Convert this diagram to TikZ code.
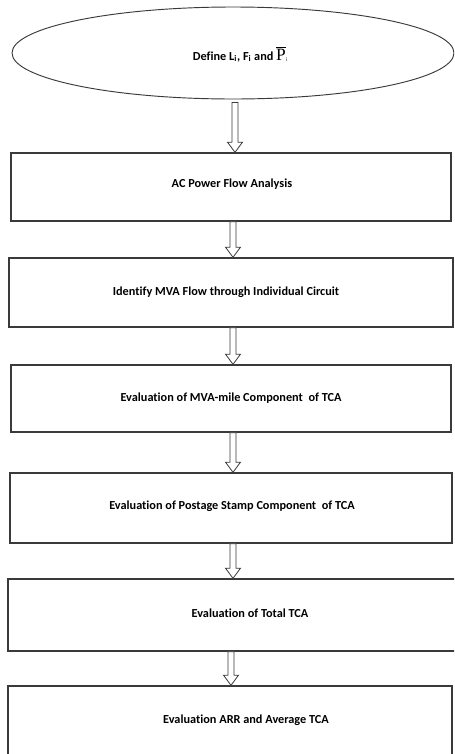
\documentclass[tikz,border=0pt]{standalone}
\usepackage{fontspec}
\setmainfont{Carlito}[Ligatures=NoCommon]
\newfontfamily\serifP{Liberation Serif}
\usetikzlibrary{shapes.geometric,calc}
\definecolor{edge}{HTML}{3A3A3A}
\tikzset{
  px/.style={x=0.75pt,y=-0.75pt},
  stepbox/.style={draw=edge,line width=1.1pt,rectangle,inner sep=0pt},
  lbl/.style={font=\bfseries\fontsize{9.2}{11}\selectfont,inner sep=0pt,text=black},
  blockarrow/.style={draw=edge,line width=0.6pt,fill=white,
    to path={let \p1=(\tikztostart), \p2=(\tikztotarget) in
      (\x1-2.3pt,\y1) -- (\x1-2.3pt,\y2+7.5pt) -- (\x1-5.6pt,\y2+7.5pt) -- (\x1,\y2)
      -- (\x1+5.6pt,\y2+7.5pt) -- (\x1+2.3pt,\y2+7.5pt) -- (\x1+2.3pt,\y1) -- cycle}}
}
\begin{document}
\begin{tikzpicture}[px]
\useasboundingbox (0,0) rectangle (454,754);
\clip (0,0) rectangle (454,754);
\fill[white] (0,0) rectangle (454,754);
% start ellipse
\node[ellipse,draw=edge,line width=0.7pt,minimum width=442*0.75pt,minimum height=92*0.75pt,inner sep=0pt] (e) at (233,53) {};
\node[lbl] (te) at (240,54) {Define L\textsubscript{i}, F\textsubscript{i} and {\fontsize{13}{13}\selectfont$\overline{\mbox{\serifP\mdseries P}}$}\raisebox{-0.3ex}{\fontsize{4}{4}\selectfont\mdseries i}};
% boxes
\node[stepbox,minimum width=440*0.75pt,minimum height=68*0.75pt] (b1) at (231,187) {};
\node[stepbox,minimum width=444*0.75pt,minimum height=69*0.75pt] (b2) at (231,292.5) {};
\node[stepbox,minimum width=440*0.75pt,minimum height=67*0.75pt] (b3) at (231,398.5) {};
\node[stepbox,minimum width=442*0.75pt,minimum height=70*0.75pt] (b4) at (231,508) {};
\node[stepbox,minimum width=456*0.75pt,minimum height=72*0.75pt] (b5) at (236,615) {};
\node[stepbox,minimum width=444*0.75pt,minimum height=100*0.75pt] (b6) at (230,736) {};
% texts
\node[lbl] (t1) at (232,184) {AC Power Flow Analysis};
\node[lbl] (t2) at (226,292) {Identify MVA Flow through Individual Circuit};
\node[lbl] (t3) at (231,398) {Evaluation of MVA-mile Component~ of TCA};
\node[lbl] (t4) at (232,506) {Evaluation of Postage Stamp Component~ of TCA};
\node[lbl] (t5) at (250,613) {Evaluation of Total TCA};
\node[lbl] (t6) at (246,720) {Evaluation ARR and Average TCA};
% arrows
\path (e.south) +(2,3) coordinate (a0);
\draw[blockarrow] (a0) to (a0 |- b1.north);
\path (b1.south) +(2,0) coordinate (a1);
\draw[blockarrow] (a1) to (a1 |- b2.north);
\path (b2.south) +(2,0) coordinate (a2);
\draw[blockarrow] (a2) to (a2 |- b3.north);
\path (b3.south) +(2,0) coordinate (a3);
\draw[blockarrow] (a3) to (a3 |- b4.north);
\path (b4.south) +(2,0) coordinate (a4);
\draw[blockarrow] (a4) to (a4 |- b5.north);
\path (b5.south) +(-5,0) coordinate (a5);
\draw[blockarrow] (a5) to (a5 |- b6.north);
\end{tikzpicture}
\end{document}
